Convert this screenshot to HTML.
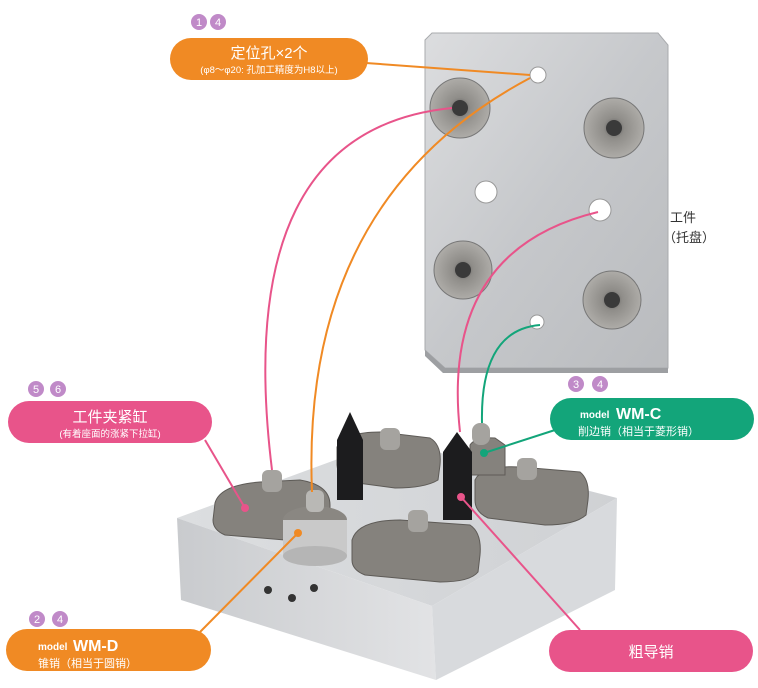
<!DOCTYPE html>
<html><head><meta charset="utf-8"><style>
html,body{margin:0;padding:0;background:#fff;width:758px;height:688px;overflow:hidden}
svg{display:block}
text{font-family:"Liberation Sans","Noto Sans CJK SC",sans-serif}
</style></head><body>
<svg width="758" height="688" viewBox="0 0 758 688">
<defs>
<linearGradient id="pl" x1="0" y1="0" x2="1" y2="1"><stop offset="0" stop-color="#dcdddf"/><stop offset=".5" stop-color="#c6c8cb"/><stop offset="1" stop-color="#b9bbbe"/></linearGradient>
<linearGradient id="bt" x1="0" y1="0" x2="1" y2="0"><stop offset="0" stop-color="#dcdee0"/><stop offset="1" stop-color="#cfd1d4"/></linearGradient>
<linearGradient id="bf" x1="0" y1="0" x2="1" y2="0"><stop offset="0" stop-color="#c9cbce"/><stop offset="1" stop-color="#e2e3e5"/></linearGradient>
<radialGradient id="rg"><stop offset="0" stop-color="#555"/><stop offset=".35" stop-color="#8f8d89"/><stop offset="1" stop-color="#aeaca8"/></radialGradient>
</defs>
<polygon points="432,33 658,33 668,45 668,368 445,368 425,350 425,40" fill="url(#pl)" stroke="#a9abae"/>
<polygon points="425,350 445,368 668,368 668,373 443,373 425,356" fill="#9d9fa2"/>
<g fill="url(#rg)" stroke="#777">
<circle cx="460" cy="108" r="30"/><circle cx="614" cy="128" r="30"/>
<circle cx="463" cy="270" r="29"/><circle cx="612" cy="300" r="29"/>
</g>
<g fill="#3a3a3a"><circle cx="460" cy="108" r="8"/><circle cx="614" cy="128" r="8"/><circle cx="463" cy="270" r="8"/><circle cx="612" cy="300" r="8"/></g>
<g fill="#fff" stroke="#999"><circle cx="538" cy="75" r="8"/><circle cx="486" cy="192" r="11"/><circle cx="600" cy="210" r="11"/><circle cx="537" cy="322" r="7"/></g>
<text x="670" y="222" font-size="13" fill="#333">工件</text>
<text x="663" y="242" font-size="13" fill="#333">（托盘）</text>
<polygon points="177,518 390,440 617,498 432,606" fill="url(#bt)"/>
<polygon points="177,518 432,606 436,680 181,600" fill="url(#bf)"/>
<polygon points="432,606 617,498 615,590 436,680" fill="#d8dadd"/>
<g fill="#333"><circle cx="268" cy="590" r="4"/><circle cx="292" cy="598" r="4"/><circle cx="314" cy="588" r="4"/></g>
<g fill="#85827d" stroke="#5e5b57">
<path d="M215,503 Q220,485 260,482 L300,480 Q330,485 330,505 L330,525 Q320,540 285,540 L225,535 Q213,530 213,520Z"/>
<path d="M337,447 Q345,432 380,432 L430,438 Q442,445 440,465 L438,480 Q425,488 395,488 L350,482 Q338,478 337,465Z"/>
<path d="M352,540 Q358,520 400,520 L470,525 Q482,533 480,555 L478,572 Q470,582 440,582 L365,575 Q352,570 352,560Z"/>
<path d="M475,480 Q482,465 520,467 L580,472 Q590,480 588,500 L586,515 Q575,525 545,525 L488,518 Q475,512 475,500Z"/>
<path d="M470,445 Q475,437 495,438 L505,445 L505,475 L470,475Z"/>
</g>
<g fill="#a5a39f"><rect x="262" y="470" width="20" height="22" rx="6"/><rect x="380" y="428" width="20" height="22" rx="6"/><rect x="408" y="510" width="20" height="22" rx="6"/><rect x="517" y="458" width="20" height="22" rx="6"/><rect x="472" y="423" width="18" height="22" rx="8"/></g>
<ellipse cx="315" cy="520" rx="32" ry="14" fill="#8a8782"/>
<rect x="283" y="520" width="64" height="36" fill="#c9c9c9"/><ellipse cx="315" cy="556" rx="32" ry="10" fill="#b5b5b5"/>
<rect x="306" y="490" width="18" height="22" rx="6" fill="#b9b8b5"/>
<path d="M337,440 L350,412 L363,440 L363,500 L337,500Z" fill="#1c1c1e"/>
<path d="M443,452 L457,432 L472,452 L472,520 L443,520Z" fill="#1c1c1e"/>
<g fill="none" stroke-width="2">
<path d="M366,63 L530,75" stroke="#f08a24"/>
<path d="M312,492 Q300,200 530,78" stroke="#f08a24"/>
<path d="M272,470 Q230,130 452,108" stroke="#e8548a"/>
<path d="M460,432 Q440,250 598,212" stroke="#e8548a"/>
<path d="M482,423 Q480,330 540,325" stroke="#13a57a"/>
<path d="M484,453 L555,430" stroke="#13a57a"/>
<path d="M205,440 L245,508" stroke="#e8548a"/>
<path d="M461,497 L580,630" stroke="#e8548a"/>
<path d="M200,632 L298,533" stroke="#f08a24"/>
</g>
<g><circle cx="245" cy="508" r="4" fill="#e8548a"/><circle cx="461" cy="497" r="4" fill="#e8548a"/><circle cx="298" cy="533" r="4" fill="#f08a24"/><circle cx="484" cy="453" r="4" fill="#13a57a"/></g>
<g font-size="11" fill="#fff" text-anchor="middle">
<circle cx="199" cy="22" r="8" fill="#c08ac8"/><text x="199" y="26">1</text>
<circle cx="218" cy="22" r="8" fill="#c08ac8"/><text x="218" y="26">4</text>
<circle cx="36" cy="389" r="8" fill="#c08ac8"/><text x="36" y="393">5</text>
<circle cx="58" cy="389" r="8" fill="#c08ac8"/><text x="58" y="393">6</text>
<circle cx="576" cy="384" r="8" fill="#c08ac8"/><text x="576" y="388">3</text>
<circle cx="600" cy="384" r="8" fill="#c08ac8"/><text x="600" y="388">4</text>
<circle cx="37" cy="619" r="8" fill="#c08ac8"/><text x="37" y="623">2</text>
<circle cx="60" cy="619" r="8" fill="#c08ac8"/><text x="60" y="623">4</text>
</g>
<rect x="170" y="38" width="198" height="42" rx="21" fill="#f08a24"/>
<text x="269" y="58" font-size="15" fill="#fff" text-anchor="middle">定位孔×2个</text>
<text x="269" y="73" font-size="9.5" fill="#fff" text-anchor="middle">(φ8～φ20: 孔加工精度为H8以上)</text>
<rect x="8" y="401" width="204" height="42" rx="21" fill="#e8548a"/>
<text x="110" y="422" font-size="15" fill="#fff" text-anchor="middle">工件夹紧缸</text>
<text x="110" y="437" font-size="9.5" fill="#fff" text-anchor="middle">(有着座面的涨紧下拉缸)</text>
<rect x="550" y="398" width="204" height="42" rx="21" fill="#13a57a"/>
<text x="580" y="418" font-size="10" fill="#fff" font-weight="bold">model</text>
<text x="616" y="419" font-size="16" fill="#fff" font-weight="bold">WM-C</text>
<text x="578" y="435" font-size="11" fill="#fff">削边销（相当于菱形销）</text>
<rect x="6" y="629" width="205" height="42" rx="21" fill="#f08a24"/>
<text x="38" y="650" font-size="10" fill="#fff" font-weight="bold">model</text>
<text x="73" y="651" font-size="16" fill="#fff" font-weight="bold">WM-D</text>
<text x="38" y="667" font-size="11" fill="#fff">锥销（相当于圆销）</text>
<rect x="549" y="630" width="204" height="42" rx="21" fill="#e8548a"/>
<text x="651" y="657" font-size="15" fill="#fff" text-anchor="middle">粗导销</text>
</svg>
</body></html>
